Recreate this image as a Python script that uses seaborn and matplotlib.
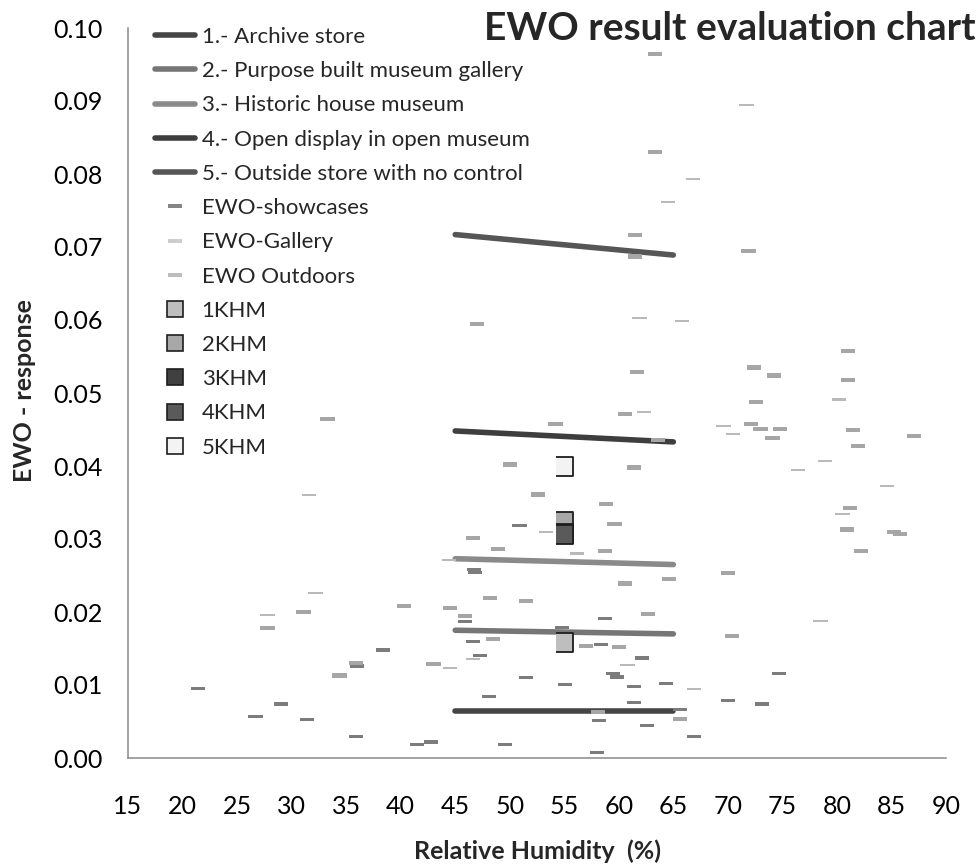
import matplotlib
matplotlib.use('Agg')
import matplotlib.pyplot as plt
from matplotlib.lines import Line2D
from matplotlib.ticker import FormatStrFormatter, MultipleLocator
import pandas as pd
import seaborn as sns

##### data #####
# EWO dosimeter readings (RH %, response)
showcase_rh = [21.4, 26.7, 29.0, 31.4, 35.9, 36.0, 38.4, 41.5, 42.8, 46.7, 46.8, 45.9,
               46.6, 47.3, 48.1, 49.6, 50.9, 51.5, 54.8, 55.1, 58.0, 58.2, 58.4, 58.7,
               59.5, 59.8, 61.4, 61.4, 62.1, 62.6, 64.3, 65.6, 66.9, 70.0, 73.1, 74.7]
showcase_ewo = [0.0095, 0.0057, 0.0074, 0.0053, 0.0030, 0.0126, 0.0148, 0.0018, 0.0022,
                0.0258, 0.0254, 0.0187, 0.0159, 0.0141, 0.0084, 0.0019, 0.0318, 0.0110,
                0.0179, 0.0101, 0.0008, 0.0051, 0.0155, 0.0191, 0.0116, 0.0111, 0.0098,
                0.0076, 0.0137, 0.0045, 0.0102, 0.0066, 0.0030, 0.0079, 0.0074, 0.0116]

gallery_rh = [27.8, 32.2, 44.4, 44.5, 46.6, 53.3, 56.2, 60.8, 66.9, 62.3, 64.5, 66.8,
              61.9, 65.8, 71.7, 80.2, 69.6, 70.5, 78.9, 76.4, 84.6, 80.5, 78.5, 31.6]
gallery_ewo = [0.0196, 0.0226, 0.0271, 0.0123, 0.0136, 0.0310, 0.0280, 0.0127, 0.0095,
               0.0474, 0.0762, 0.0793, 0.0603, 0.0599, 0.0895, 0.0491, 0.0455, 0.0444,
               0.0407, 0.0395, 0.0373, 0.0334, 0.0188, 0.0360]

outdoor_rh = [33.3, 27.8, 31.1, 40.3, 44.5, 34.4, 35.9, 43.0, 45.9, 46.6, 48.9, 48.2,
              51.5, 48.5, 57.0, 60.0, 62.7, 60.6, 64.6, 58.7, 59.6, 58.8, 52.6, 50.0,
              61.4, 54.2, 60.6, 63.6, 61.7, 61.5, 61.5, 63.3, 63.3, 47.0, 65.6, 58.1,
              71.9, 81.0, 72.4, 74.2, 81.0, 72.6, 72.1, 73.0, 74.8, 74.1, 81.5, 81.9,
              87.1, 81.2, 80.9, 85.2, 85.8, 82.2, 70.0, 70.4]
outdoor_ewo = [0.0464, 0.0178, 0.0200, 0.0208, 0.0206, 0.0113, 0.0130, 0.0129, 0.0195,
               0.0301, 0.0286, 0.0219, 0.0215, 0.0163, 0.0154, 0.0152, 0.0197, 0.0239,
               0.0245, 0.0284, 0.0320, 0.0348, 0.0361, 0.0402, 0.0398, 0.0458, 0.0471,
               0.0436, 0.0529, 0.0716, 0.0687, 0.0830, 0.0964, 0.0594, 0.0053, 0.0063,
               0.0695, 0.0557, 0.0535, 0.0524, 0.0518, 0.0488, 0.0458, 0.0451, 0.0451,
               0.0438, 0.0449, 0.0427, 0.0441, 0.0342, 0.0313, 0.0309, 0.0307, 0.0284,
               0.0253, 0.0167]

# environment class lines (RH 45 -> 65)
class_names = ['1.- Archive store', '2.- Purpose built museum gallery',
               '3.- Historic house museum', '4.- Open display in open museum',
               '5.- Outside store with no control']
class_rh = [45, 65]
class_ewo_start = [0.0065, 0.0175, 0.0273, 0.0448, 0.0717]
class_ewo_end = [0.0065, 0.0170, 0.0265, 0.0433, 0.0689]

# KHM measurements
khm_names = ['1KHM', '2KHM', '3KHM', '4KHM', '5KHM']
khm_rh = [55, 55, 55, 55, 55]
khm_ewo = [0.0158, 0.0324, 0.0308, 0.0306, 0.0399]

##### styles #####
class_colors = ['#454545', '#767676', '#8a8a8a', '#3e3e3e', '#565656']
series_colors = {'EWO-showcases': '#7c7c7c', 'EWO-Gallery': '#b9b9b9',
                 'EWO Outdoors': '#a6a6a6'}
legend_dash_colors = {'EWO-showcases': '#858585', 'EWO-Gallery': '#cdcdcd',
                      'EWO Outdoors': '#bdbdbd'}
khm_colors = ['#bebebe', '#a8a8a8', '#404040', '#5a5a5a', '#f3f3f3']

thick_dash = [(-1, -0.29), (1, -0.29), (1, 0.29), (-1, 0.29)]
mid_dash = [(-1, -0.22), (1, -0.22), (1, 0.22), (-1, 0.22)]
thin_dash = [(-1, -0.16), (1, -0.16), (1, 0.16), (-1, 0.16)]
khm_box = [(-0.44, -0.5), (0.44, -0.5), (0.44, 0.5), (-0.44, 0.5)]
series_markers = {'EWO-showcases': mid_dash, 'EWO-Gallery': thin_dash,
                  'EWO Outdoors': thick_dash}

sns.set_style('white')
plt.rcParams['font.family'] = ['Lato', 'DejaVu Sans']

fig = plt.figure(figsize=(9.8, 8.66), dpi=100)
ax = fig.add_axes([128 / 980, 1 - 758 / 866, (946 - 128) / 980, (758 - 28) / 866])

# class lines
lines_df = pd.DataFrame({
    'rh': class_rh * len(class_names),
    'ewo': [v for s, e in zip(class_ewo_start, class_ewo_end) for v in (s, e)],
    'cls': [n for n in class_names for _ in class_rh],
})
sns.lineplot(data=lines_df, x='rh', y='ewo', hue='cls', palette=class_colors,
             linewidth=4, solid_capstyle='round', legend=False, ax=ax, zorder=2)

# EWO points
pts = pd.concat([
    pd.DataFrame({'rh': showcase_rh, 'ewo': showcase_ewo, 'series': 'EWO-showcases'}),
    pd.DataFrame({'rh': gallery_rh, 'ewo': gallery_ewo, 'series': 'EWO-Gallery'}),
    pd.DataFrame({'rh': outdoor_rh, 'ewo': outdoor_ewo, 'series': 'EWO Outdoors'}),
])
sns.scatterplot(data=pts, x='rh', y='ewo', hue='series', style='series',
                palette=series_colors, markers=series_markers, s=105,
                linewidth=0, legend=False, ax=ax, zorder=3)

# KHM boxes
khm_df = pd.DataFrame({'rh': khm_rh, 'ewo': khm_ewo, 'name': khm_names})
sns.scatterplot(data=khm_df, x='rh', y='ewo', hue='name', palette=khm_colors,
                marker=khm_box, s=190, edgecolor='#1e1e1e', linewidth=1.3,
                legend=False, ax=ax, zorder=5)

# axes
ax.set_xlim(15, 90)
ax.set_ylim(0, 0.10)
ax.xaxis.set_major_locator(MultipleLocator(5))
ax.yaxis.set_major_locator(MultipleLocator(0.01))
ax.yaxis.set_major_formatter(FormatStrFormatter('%.2f'))
sns.despine(ax=ax)
for side in ['left', 'bottom']:
    ax.spines[side].set_color('#8a8a8a')
    ax.spines[side].set_linewidth(1.1)
ax.tick_params(axis='both', direction='out', length=6.5, width=1.1, color='#8a8a8a',
               labelsize=18, labelcolor='black')
ax.tick_params(axis='x', pad=20)
ax.tick_params(axis='y', pad=12)

ax.set_xlabel('Relative Humidity  (%)', fontsize=18, fontweight='bold')
ax.set_ylabel('EWO - response', fontsize=18, fontweight='bold')
ax.xaxis.set_label_coords(0.5, -0.128)
ax.xaxis.label.set_va('center')
ax.yaxis.set_label_coords(-0.127, 0.504)
ax.yaxis.label.set_va('center')

fig.text(976 / 980, 1 - 11 / 866, 'EWO result evaluation chart', ha='right', va='top',
         fontsize=28, fontweight='bold')

# legend
handles = []
for name, c in zip(class_names, class_colors):
    handles.append(Line2D([], [], color=c, linewidth=4, solid_capstyle='round', label=name))
for name, c in legend_dash_colors.items():
    handles.append(Line2D([], [], linestyle='none', marker=thick_dash,
                          markersize=10, markeredgewidth=0, color=c, label=name))
for name, c in zip(khm_names, khm_colors):
    handles.append(Line2D([], [], linestyle='none', marker='s', markersize=11.5,
                          markerfacecolor=c, markeredgecolor='#1e1e1e',
                          markeredgewidth=1.2, label=name))
ax.legend(handles=handles, loc='upper left', bbox_to_anchor=(155 / 980, 1 - 27 / 866),
          bbox_transform=fig.transFigure, frameon=False, fontsize=16,
          handlelength=1.8, handletextpad=0.3, labelspacing=0.64,
          borderpad=0, borderaxespad=0)

plt.savefig('out.png', dpi=100)
